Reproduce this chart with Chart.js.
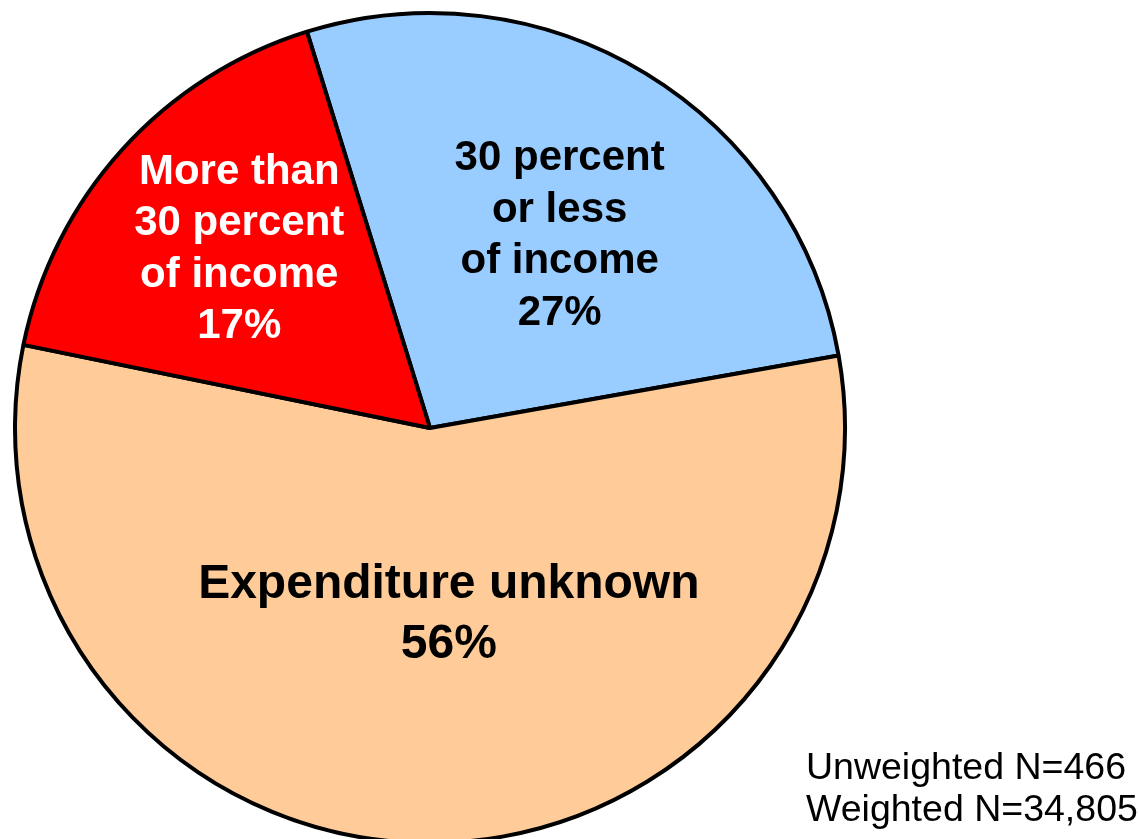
<!DOCTYPE html>
<html lang="en">
<head>
  <meta charset="UTF-8" />
  <title>Housing expenditure share</title>
  <script src="https://cdn.jsdelivr.net/npm/chart.js"></script>
  <style>
    html,body{margin:0;padding:0;background:#fff;}
    #wrap{position:relative;width:1138px;height:839px;}
  </style>
</head>
<body>
<div id="wrap"><canvas id="chart"></canvas></div>
<script>
// ── data ────────────────────────────────────────────────────────────────
const categories = ['30 percent or less of income', 'Expenditure unknown', 'More than 30 percent of income'];
const shares     = [27, 56, 17];
const labelLines = [
  ['30 percent', 'or less', 'of income', '27%'],
  ['Expenditure unknown', '56%'],
  ['More than', '30 percent', 'of income', '17%']
];
const footnote   = ['Unweighted N=466', 'Weighted N=34,805'];

// ── look ────────────────────────────────────────────────────────────────
const colors     = ['#99CCFF', '#FFCC99', '#FF0000'];
const textColors = ['#000', '#000', '#fff'];
// where each label sits: angle shift from slice middle (deg), fraction of radius, font px, line height
const labelPlace = [
  {shift: 2.7,  frac: 0.558, size: 42, lh: 51.5},
  {shift: -6.5, frac: 0.453, size: 48, lh: 60},
  {shift: 1.0,  frac: 0.630, size: 42, lh: 51.5}
];
const FONT = '"Liberation Sans", Arial, Helvetica, sans-serif';

const sliceLabels = {
  id: 'sliceLabels',
  afterDatasetsDraw(chart){
    const ctx = chart.ctx;
    const arcs = chart.getDatasetMeta(0).data;
    ctx.save();
    ctx.textAlign = 'center';
    ctx.textBaseline = 'middle';
    arcs.forEach((arc, i) => {
      const p = labelPlace[i];
      const {x, y, startAngle, endAngle, outerRadius} = arc.getProps(['x','y','startAngle','endAngle','outerRadius'], true);
      const a = (startAngle + endAngle) / 2 + p.shift * Math.PI / 180;
      const cx = x + Math.cos(a) * outerRadius * p.frac;
      const cy = y + Math.sin(a) * outerRadius * p.frac;
      const lines = labelLines[i];
      ctx.font = `bold ${p.size}px ${FONT}`;
      ctx.fillStyle = textColors[i];
      lines.forEach((t, k) => {
        ctx.fillText(t, cx, cy + (k - (lines.length - 1) / 2) * p.lh);
      });
    });
    // sample size note, lower right
    ctx.textAlign = 'left';
    ctx.textBaseline = 'alphabetic';
    ctx.font = `37.5px ${FONT}`;
    ctx.fillStyle = '#000';
    footnote.forEach((t, k) => ctx.fillText(t, 806, 779 + k * 42));
    ctx.restore();
  }
};

new Chart(document.getElementById('chart'), {
  type: 'pie',
  data: {
    labels: categories,
    datasets: [{
      data: shares,
      backgroundColor: colors,
      borderColor: '#000',
      borderWidth: 4,
      clip: false
    }]
  },
  options: {
    responsive: true,
    maintainAspectRatio: false,
    animation: false,
    rotation: -17.25,
    radius: 415,
    layout: {padding: {left: 14, right: 292, top: 17, bottom: 0}},
    plugins: {
      legend: {display: false},
      tooltip: {enabled: false}
    }
  },
  plugins: [sliceLabels]
});
</script>
</body>
</html>
